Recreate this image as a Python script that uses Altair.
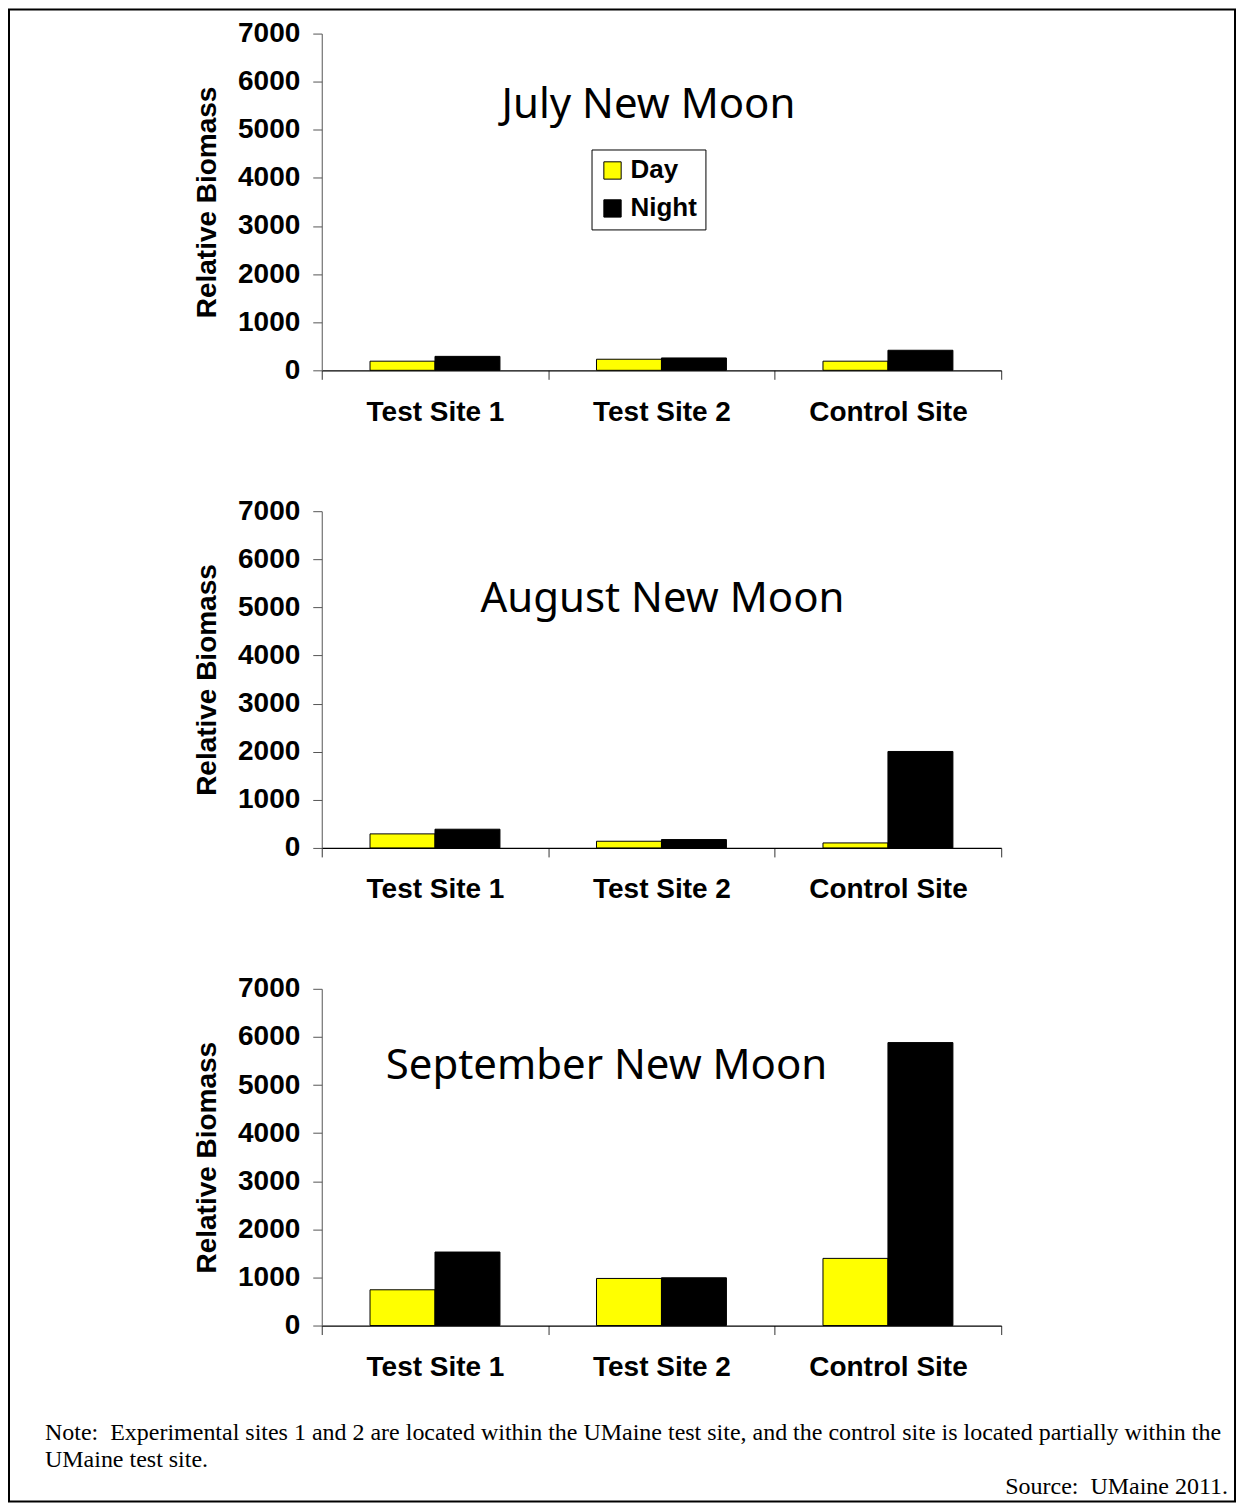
import altair as alt
import pandas as pd

sites = ["Test Site 1", "Test Site 2", "Control Site"]
periods = ["Day", "Night"]
panel_titles = ["July New Moon", "August New Moon", "September New Moon"]

july_day = [190, 230, 190]
july_night = [290, 257, 417]
aug_day = [292, 139, 104]
aug_night = [389, 174, 2005]
sep_day = [743, 979, 1396]
sep_night = [1528, 993, 5882]

y_ticks = [0, 1000, 2000, 3000, 4000, 5000, 6000, 7000]
NB = "\u00a0"
note_lines = [
    "Note:" + NB + " Experimental sites 1 and 2 are located within the UMaine test site, and the control site is located partially within the",
    "UMaine test site.",
]
source_text = "Source:" + NB + " UMaine 2011."

BOLD = "Liberation Sans"
W, H = 680, 337


def make_df(day, night):
    rows = []
    for s, d, n in zip(sites, day, night):
        rows.append({"site": s, "period": "Day", "value": d})
        rows.append({"site": s, "period": "Night", "value": n})
    return pd.DataFrame(rows)


def panel(day, night, title, title_x, title_y, show_legend):
    df = make_df(day, night)
    legend = None
    if show_legend:
        legend = alt.Legend(
            title=None, orient="none", legendX=270, legendY=116,
            labelFont=BOLD, labelFontSize=26, labelFontWeight="bold", labelColor="black",
            symbolType="square", symbolSize=300, symbolStrokeColor="black",
            symbolStrokeWidth=1, rowPadding=12, padding=8,
            strokeColor="black", fillColor="white", labelOffset=5,
        )
    bars = alt.Chart(df).mark_bar(stroke="black", strokeWidth=1).encode(
        x=alt.X("site:N", sort=sites,
                scale=alt.Scale(paddingInner=0, paddingOuter=0),
                axis=alt.Axis(title=None, labelAngle=0, labelFont=BOLD, labelFontSize=28,
                              labelFontWeight="bold", labelColor="black", labelPadding=19,
                              tickSize=9, tickBand="extent", tickColor="#333",
                              domainColor="black", domainWidth=1.2)),
        xOffset=alt.XOffset("period:N", sort=periods,
                            scale=alt.Scale(paddingInner=0, paddingOuter=0.743)),
        y=alt.Y("value:Q", scale=alt.Scale(domain=[0, 7000], nice=False),
                axis=alt.Axis(title="Relative Biomass", values=y_ticks, format="d",
                              grid=False, tickSize=9, labelPadding=13,
                              labelFont=BOLD, labelFontSize=28, labelFontWeight="bold",
                              labelColor="black", titleFont=BOLD, titleFontSize=28,
                              titleFontWeight="bold", titleColor="black", titlePadding=16,
                              domainColor="#555", tickColor="#555")),
        color=alt.Color("period:N", sort=periods,
                        scale=alt.Scale(domain=periods, range=["#FFFF00", "#000000"]),
                        legend=legend),
    )
    ttl = alt.Chart(pd.DataFrame({"t": [title]})).mark_text(
        font="Noto Sans", fontSize=42, color="black", align="center", baseline="alphabetic"
    ).encode(text="t:N", x=alt.value(title_x), y=alt.value(title_y))
    return bars, ttl


b1, t1 = panel(july_day, july_night, panel_titles[0], 327, 84, True)
b2, t2 = panel(aug_day, aug_night, panel_titles[1], 341, 101, False)
b3, t3 = panel(sep_day, sep_night, panel_titles[2], 285, 90, False)

frame = alt.Chart(pd.DataFrame({"k": [0]})).mark_rect(
    filled=False, stroke="black", strokeWidth=2
).encode(x=alt.value(-313), x2=alt.value(914), y=alt.value(-24), y2=alt.value(1469))

note1 = alt.Chart(pd.DataFrame({"t": [note_lines[0]]})).mark_text(
    font="Liberation Serif", fontSize=24, color="black", align="left", baseline="alphabetic"
).encode(text="t:N", x=alt.value(-277), y=alt.value(452))
note2 = alt.Chart(pd.DataFrame({"t": [note_lines[1]]})).mark_text(
    font="Liberation Serif", fontSize=24, color="black", align="left", baseline="alphabetic"
).encode(text="t:N", x=alt.value(-277), y=alt.value(479))
src = alt.Chart(pd.DataFrame({"t": [source_text]})).mark_text(
    font="Liberation Serif", fontSize=24, color="black", align="right", baseline="alphabetic"
).encode(text="t:N", x=alt.value(907), y=alt.value(506))

p1 = alt.layer(b1, t1, frame).properties(width=W, height=H)
p2 = alt.layer(b2, t2).properties(width=W, height=H)
p3 = alt.layer(b3, t3, note1, note2, src).properties(width=W, height=H)

chart = alt.vconcat(p1, p2, p3, spacing=141, bounds="flush").properties(
    padding=0, background="white"
).configure_view(stroke=None)

chart.save("out.html", embed_options={"renderer": "svg", "actions": False})
